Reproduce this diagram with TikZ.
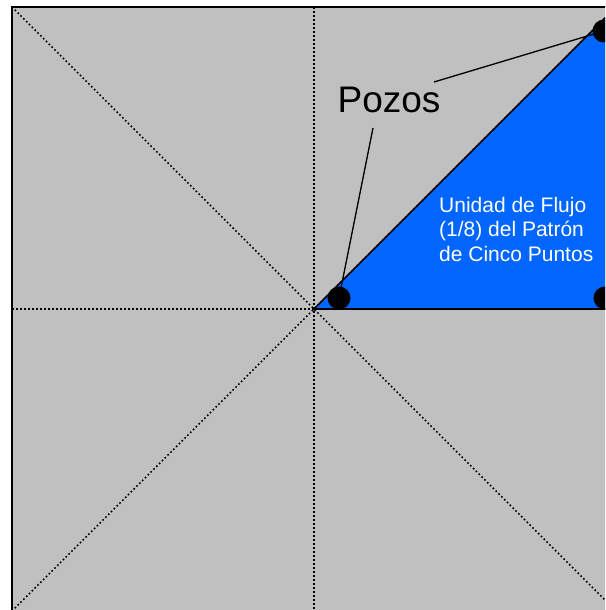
\documentclass[tikz,border=0pt]{standalone}
\usepackage{fontspec}
\setmainfont{Liberation Sans}
\usetikzlibrary{calc}
\definecolor{bggray}{RGB}{192,192,192}
\definecolor{unitblue}{RGB}{0,102,255}
\tikzset{
  guide/.style={draw=black, line width=1.7pt, dash pattern=on 1.6pt off 2.4pt},
  frame/.style={draw=black, line width=2pt},
  unitedge/.style={draw=black, line width=1.6pt, line join=round},
  well/.style={circle, fill=black, inner sep=0pt, minimum size=23pt},
  callout/.style={draw=black, line width=1.3pt},
}
\begin{document}
\begin{tikzpicture}[x=1pt,y=-1pt]
\useasboundingbox (0,0) rectangle (605,610);
\begin{scope}
\clip (0,0) rectangle (605,610);
% square field
\coordinate (TL) at (12,7);
\coordinate (BR) at (616,611);
\coordinate (TR) at (616,7);
\coordinate (BL) at (12,611);
\coordinate (C) at (314,309);
\coordinate (T) at (314,7);
\coordinate (B) at (314,611);
\coordinate (L) at (12,309);
\coordinate (R) at (616,309);
\fill[bggray] (TL) rectangle (BR);
% guide lines
\draw[guide] (T) -- (B);
\draw[guide] (L) -- (R);
\draw[guide] (TL) -- (BR);
\draw[guide] (BL) -- (TR);
% flow unit
\filldraw[fill=unitblue, unitedge] (C) -- (R) -- (TR) -- cycle;
% frame
\draw[frame] (TL) rectangle (BR);
% wells
\node[well] (w1) at (339,298) {};
\node[well] (w2) at (605,298) {};
\node[well] (w3) at (604,31) {};
% labels
\node[anchor=base, inner sep=0pt, font=\fontsize{37}{40}\selectfont] (pozos) at (389,112) {Pozos};
\node[anchor=base west, inner sep=0pt, text=white, align=left,
      font=\fontsize{21}{24.5}\selectfont] (unit) at (439,261)
  {Unidad de Flujo\\(1/8) del Patrón\\de Cinco Puntos};
% callouts
\coordinate (c1s) at (434,82);
\coordinate (c2s) at (373,128);
\draw[callout] (c1s) -- (w3.center);
\draw[callout] (c2s) -- (w1.center);
\end{scope}
\end{tikzpicture}
\end{document}
